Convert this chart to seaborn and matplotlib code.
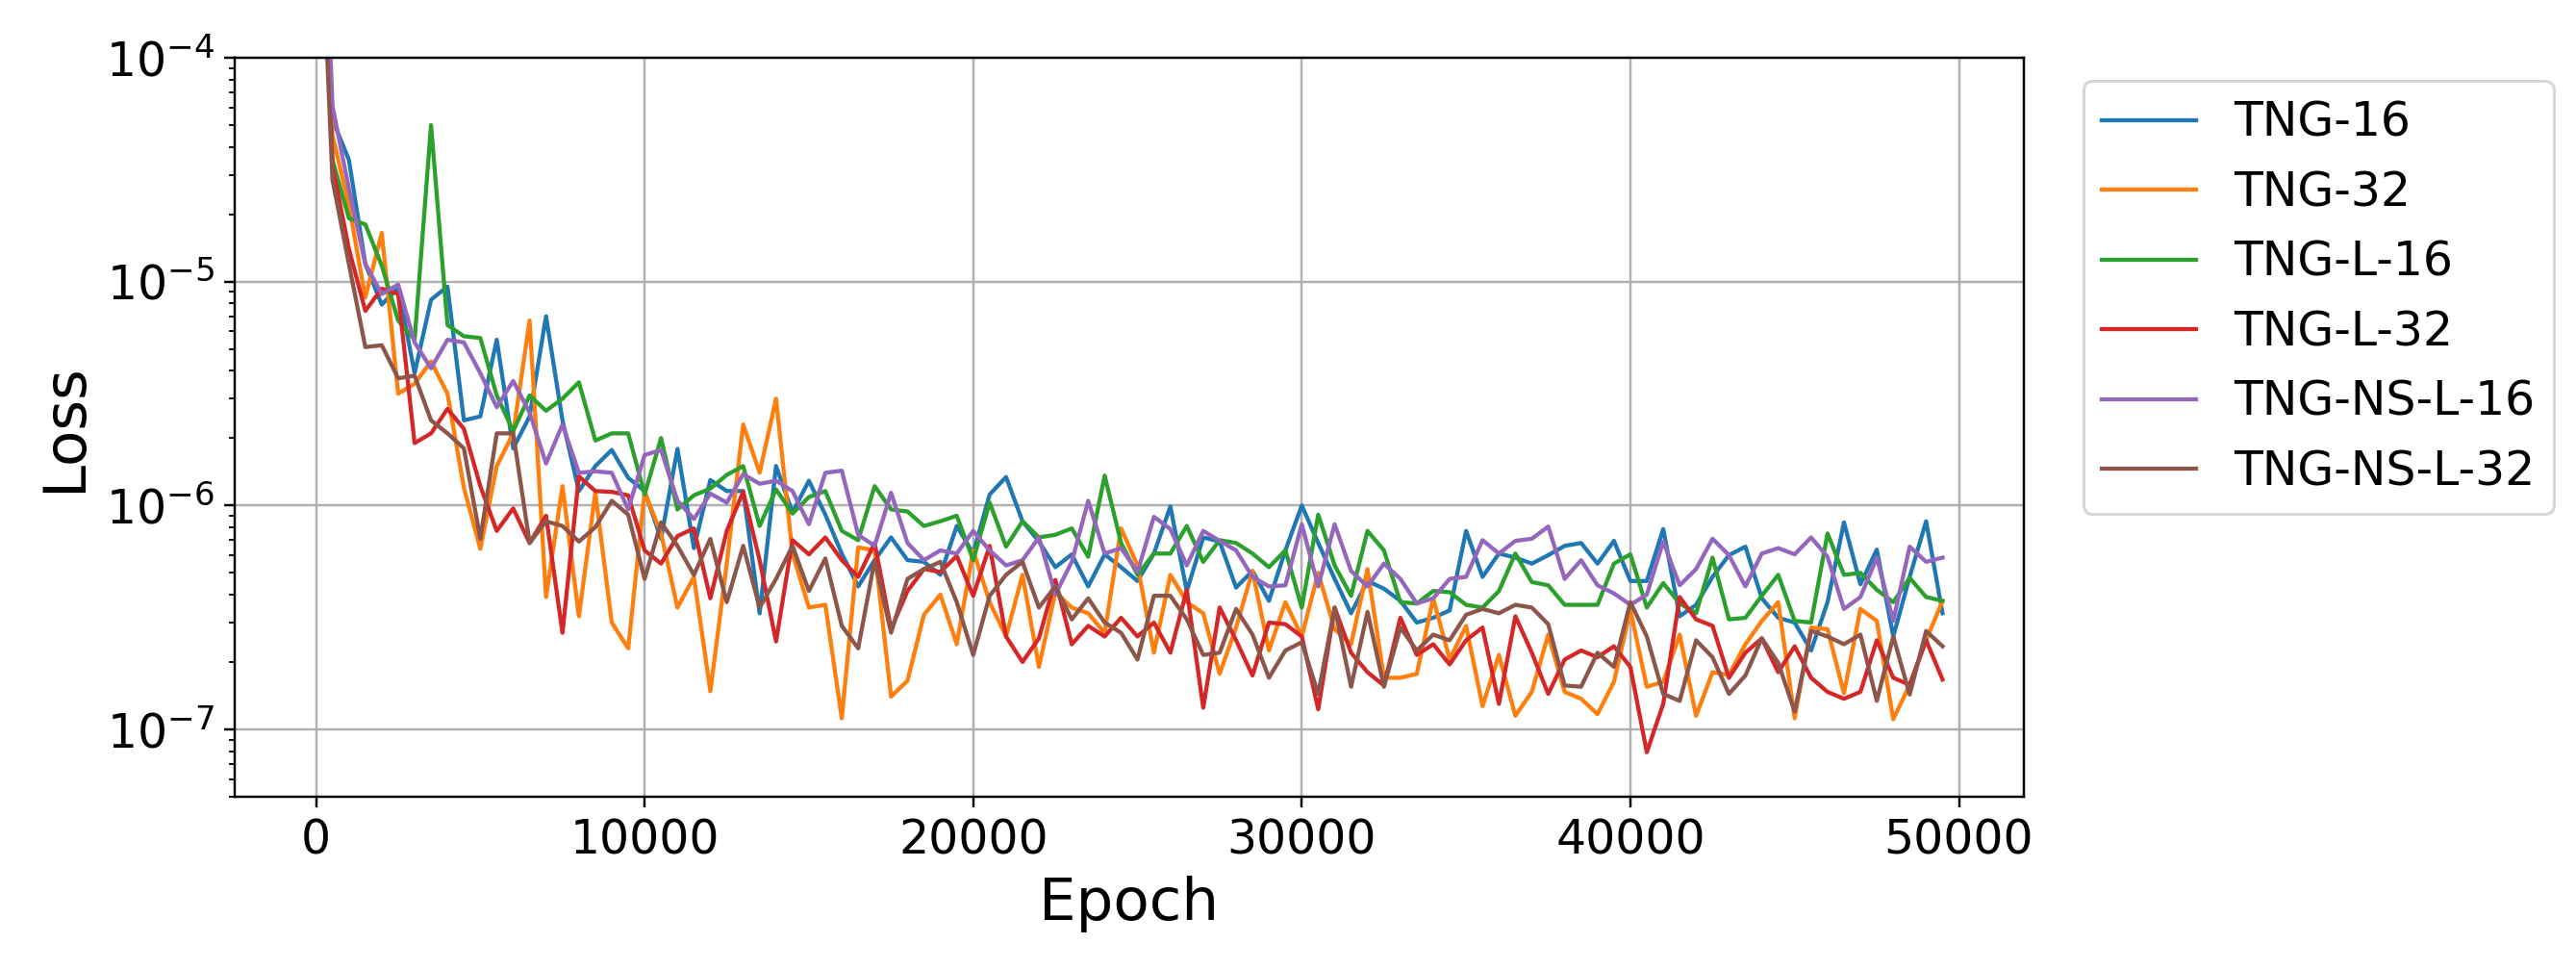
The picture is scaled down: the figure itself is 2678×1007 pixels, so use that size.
import numpy as np
import pandas as pd
import matplotlib
matplotlib.use("Agg")
import matplotlib.pyplot as plt
import seaborn as sns

epochs = list(range(0, 50000, 500))

tng_16 = [3e-3,
    5.3e-5, 3.5e-5, 1.2e-5, 7.9e-6, 9.4e-6, 3.9e-6, 8.3e-6, 9.5e-6, 2.4e-6, 2.5e-6, 5.5e-6, 1.8e-6, 2.5e-6, 7.0e-6, 2.4e-6, 1.16e-6, 1.5e-6,
    1.77e-6, 1.33e-6, 1.16e-6, 7.1e-7, 1.79e-6, 6.45e-7, 1.3e-6, 1.16e-6, 1.16e-6, 3.3e-7, 1.5e-6, 9.3e-7, 1.29e-6, 9.1e-7, 6.1e-7, 4.35e-7, 5.7e-7,
    7.2e-7, 5.7e-7, 5.6e-7, 4.9e-7, 8.1e-7, 6.1e-7, 1.12e-6, 1.34e-6, 8.5e-7, 6.9e-7, 5.3e-7, 6.05e-7, 4.35e-7, 6.05e-7, 5.3e-7, 4.6e-7, 6.1e-7,
    9.9e-7, 4.15e-7, 7.2e-7, 6.9e-7, 4.3e-7, 5.1e-7, 3.75e-7, 6.3e-7, 1.0e-6, 6.8e-7, 4.7e-7, 3.3e-7, 4.6e-7, 4.25e-7, 3.75e-7, 3.0e-7, 3.15e-7,
    3.4e-7, 7.7e-7, 4.8e-7, 6.1e-7, 5.85e-7, 5.5e-7, 6.0e-7, 6.6e-7, 6.8e-7, 5.5e-7, 6.95e-7, 4.6e-7, 4.6e-7, 7.85e-7, 3.2e-7, 3.6e-7, 4.8e-7,
    6.0e-7, 6.55e-7, 3.85e-7, 3.15e-7, 3.0e-7, 2.25e-7, 3.7e-7, 8.4e-7, 4.45e-7, 6.35e-7, 2.6e-7, 4.8e-7, 8.5e-7, 3.3e-7]

tng_32 = [3e-3,
    4.5e-5, 2.2e-5, 8.5e-6, 1.65e-5, 3.16e-6, 3.5e-6, 4.4e-6, 3.16e-6, 1.2e-6, 6.4e-7, 1.5e-6, 2.1e-6, 6.7e-6, 3.9e-7, 1.22e-6, 3.2e-7, 1.14e-6,
    3.0e-7, 2.3e-7, 1.15e-6, 7.5e-7, 3.5e-7, 4.8e-7, 1.48e-7, 5.5e-7, 2.3e-6, 1.4e-6, 3.0e-6, 6.1e-7, 3.5e-7, 3.6e-7, 1.12e-7, 6.5e-7, 6.3e-7,
    1.4e-7, 1.65e-7, 3.25e-7, 4.0e-7, 2.4e-7, 6.3e-7, 3.7e-7, 2.6e-7, 4.9e-7, 1.9e-7, 4.1e-7, 3.5e-7, 3.3e-7, 2.7e-7, 7.9e-7, 5.4e-7, 2.2e-7,
    4.9e-7, 3.7e-7, 3.3e-7, 1.77e-7, 2.85e-7, 5.1e-7, 2.25e-7, 3.7e-7, 2.6e-7, 5.0e-7, 2.8e-7, 2.4e-7, 5.2e-7, 1.7e-7, 1.7e-7, 1.77e-7, 3.85e-7,
    2.05e-7, 2.9e-7, 1.27e-7, 2.15e-7, 1.15e-7, 1.47e-7, 2.65e-7, 1.47e-7, 1.37e-7, 1.17e-7, 1.63e-7, 3.4e-7, 1.55e-7, 1.63e-7, 2.65e-7, 1.15e-7, 1.8e-7,
    1.75e-7, 2.4e-7, 3.05e-7, 3.7e-7, 1.12e-7, 2.85e-7, 2.8e-7, 1.45e-7, 3.45e-7, 3.05e-7, 1.11e-7, 1.58e-7, 2.5e-7, 3.75e-7]

tng_l_16 = [2e-3,
    3.5e-5, 1.92e-5, 1.8e-5, 1.18e-5, 6.7e-6, 5.5e-6, 5.0e-5, 6.4e-6, 5.7e-6, 5.6e-6, 3.1e-6, 2.15e-6, 3.1e-6, 2.65e-6, 3.0e-6, 3.55e-6, 1.95e-6,
    2.1e-6, 2.1e-6, 1.12e-6, 2.0e-6, 9.6e-7, 1.11e-6, 1.19e-6, 1.37e-6, 1.5e-6, 8.1e-7, 1.18e-6, 9.2e-7, 1.09e-6, 1.16e-6, 7.7e-7, 7.0e-7, 1.22e-6,
    9.6e-7, 9.4e-7, 8.1e-7, 8.5e-7, 9.0e-7, 5.7e-7, 1.03e-6, 6.55e-7, 8.5e-7, 7.2e-7, 7.4e-7, 7.9e-7, 5.9e-7, 1.36e-6, 6.8e-7, 4.9e-7, 6.1e-7,
    6.1e-7, 8.1e-7, 5.6e-7, 7.0e-7, 6.8e-7, 6.1e-7, 5.3e-7, 6.3e-7, 3.5e-7, 9.1e-7, 5.4e-7, 3.95e-7, 7.7e-7, 6.3e-7, 3.7e-7, 3.65e-7, 4.15e-7,
    4.1e-7, 3.6e-7, 3.5e-7, 4.15e-7, 6.1e-7, 4.55e-7, 4.4e-7, 3.6e-7, 3.6e-7, 3.6e-7, 5.5e-7, 6.05e-7, 3.5e-7, 4.5e-7, 3.65e-7, 3.3e-7, 5.85e-7,
    3.1e-7, 3.15e-7, 3.95e-7, 4.9e-7, 3.05e-7, 3.0e-7, 7.5e-7, 4.9e-7, 5.0e-7, 4.2e-7, 3.7e-7, 4.75e-7, 3.9e-7, 3.75e-7]

tng_l_32 = [2e-3,
    3.3e-5, 1.4e-5, 7.4e-6, 9.3e-6, 8.8e-6, 1.9e-6, 2.1e-6, 2.7e-6, 2.2e-6, 1.22e-6, 7.7e-7, 9.7e-7, 6.8e-7, 9.0e-7, 2.7e-7, 1.35e-6, 1.16e-6,
    1.15e-6, 1.11e-6, 6.3e-7, 5.5e-7, 7.3e-7, 7.9e-7, 3.85e-7, 7.7e-7, 1.15e-6, 5.7e-7, 2.47e-7, 7.0e-7, 6.05e-7, 7.2e-7, 5.7e-7, 4.8e-7, 6.8e-7,
    2.8e-7, 4.15e-7, 5.2e-7, 5.05e-7, 5.95e-7, 3.95e-7, 6.6e-7, 2.6e-7, 2.0e-7, 2.55e-7, 4.65e-7, 2.4e-7, 2.9e-7, 2.6e-7, 3.15e-7, 2.6e-7, 3.0e-7,
    2.2e-7, 4.2e-7, 1.25e-7, 3.5e-7, 2.5e-7, 1.74e-7, 3.0e-7, 2.95e-7, 2.6e-7, 1.23e-7, 3.5e-7, 2.2e-7, 1.8e-7, 1.57e-7, 3.15e-7, 2.15e-7, 2.4e-7,
    1.95e-7, 2.5e-7, 2.85e-7, 1.3e-7, 3.2e-7, 2.2e-7, 1.44e-7, 2.05e-7, 2.25e-7, 2.1e-7, 2.35e-7, 1.9e-7, 7.9e-8, 1.3e-7, 3.9e-7, 3.1e-7, 2.9e-7,
    1.7e-7, 2.2e-7, 2.55e-7, 1.8e-7, 2.35e-7, 1.7e-7, 1.47e-7, 1.37e-7, 1.47e-7, 2.5e-7, 1.7e-7, 1.58e-7, 2.5e-7, 1.67e-7]

tng_ns_l_16 = [5e-3,
    6.1e-5, 2.6e-5, 1.2e-5, 8.8e-6, 9.7e-6, 5.35e-6, 4.1e-6, 5.5e-6, 5.35e-6, 3.9e-6, 2.75e-6, 3.6e-6, 2.6e-6, 1.54e-6, 2.3e-6, 1.4e-6, 1.42e-6,
    1.4e-6, 9.6e-7, 1.68e-6, 1.77e-6, 1.05e-6, 8.7e-7, 1.13e-6, 1.03e-6, 1.38e-6, 1.25e-6, 1.29e-6, 1.16e-6, 8.25e-7, 1.4e-6, 1.43e-6, 7.4e-7, 6.6e-7,
    1.14e-6, 6.8e-7, 5.7e-7, 6.3e-7, 6.1e-7, 7.7e-7, 6.3e-7, 5.4e-7, 5.7e-7, 7.2e-7, 4.0e-7, 5.6e-7, 1.05e-6, 6.1e-7, 6.45e-7, 5.05e-7, 8.9e-7,
    7.85e-7, 5.4e-7, 7.7e-7, 6.95e-7, 6.3e-7, 4.8e-7, 4.35e-7, 4.4e-7, 8.25e-7, 4.35e-7, 8.25e-7, 5.1e-7, 4.35e-7, 5.5e-7, 4.7e-7, 3.65e-7, 3.85e-7,
    4.7e-7, 4.8e-7, 7.0e-7, 6.1e-7, 6.95e-7, 7.1e-7, 8.05e-7, 4.7e-7, 5.7e-7, 4.4e-7, 4.05e-7, 3.6e-7, 4.0e-7, 6.9e-7, 4.4e-7, 5.2e-7, 7.1e-7,
    6.0e-7, 4.35e-7, 6.1e-7, 6.45e-7, 6.05e-7, 7.2e-7, 5.9e-7, 3.45e-7, 3.9e-7, 5.85e-7, 3.05e-7, 6.55e-7, 5.6e-7, 5.85e-7]

tng_ns_l_32 = [1.5e-3,
    2.85e-5, 1.2e-5, 5.1e-6, 5.2e-6, 3.7e-6, 3.8e-6, 2.4e-6, 2.1e-6, 1.8e-6, 7.1e-7, 2.1e-6, 2.1e-6, 6.8e-7, 8.5e-7, 8.1e-7, 6.9e-7, 8.0e-7,
    1.05e-6, 9.1e-7, 4.7e-7, 8.4e-7, 6.6e-7, 4.9e-7, 7.1e-7, 3.7e-7, 6.6e-7, 3.5e-7, 4.7e-7, 6.6e-7, 4.15e-7, 5.8e-7, 2.9e-7, 2.3e-7, 5.7e-7,
    2.7e-7, 4.7e-7, 5.2e-7, 5.6e-7, 3.7e-7, 2.15e-7, 3.95e-7, 4.9e-7, 5.6e-7, 3.5e-7, 4.35e-7, 3.1e-7, 3.85e-7, 3.0e-7, 2.7e-7, 2.05e-7, 3.95e-7,
    3.95e-7, 3.1e-7, 2.15e-7, 2.2e-7, 3.45e-7, 2.65e-7, 1.7e-7, 2.25e-7, 2.45e-7, 1.44e-7, 3.5e-7, 1.55e-7, 3.35e-7, 1.55e-7, 2.85e-7, 2.25e-7, 2.65e-7,
    2.5e-7, 3.25e-7, 3.45e-7, 3.3e-7, 3.6e-7, 3.5e-7, 2.95e-7, 1.57e-7, 1.55e-7, 2.2e-7, 1.9e-7, 3.7e-7, 2.6e-7, 1.44e-7, 1.34e-7, 2.5e-7, 2.1e-7,
    1.44e-7, 1.74e-7, 2.55e-7, 1.98e-7, 1.2e-7, 2.75e-7, 2.6e-7, 2.4e-7, 2.65e-7, 1.34e-7, 2.6e-7, 1.43e-7, 2.75e-7, 2.35e-7]

labels = ["TNG-16", "TNG-32", "TNG-L-16", "TNG-L-32", "TNG-NS-L-16", "TNG-NS-L-32"]
series = [tng_16, tng_32, tng_l_16, tng_l_32, tng_ns_l_16, tng_ns_l_32]

frames = []
for lab, vals in zip(labels, series):
    frames.append(pd.DataFrame({"Epoch": epochs, "Loss": vals, "Model": lab}))
df = pd.concat(frames, ignore_index=True)

DPI = 220
fig = plt.figure(figsize=(2678 / DPI, 1007 / DPI), dpi=DPI)
ax = fig.add_axes([244 / 2678, 1 - 828 / 1007, (2104 - 244) / 2678, (828 - 60) / 1007])

palette = sns.color_palette("tab10", 6)
sns.lineplot(data=df, x="Epoch", y="Loss", hue="Model", hue_order=labels,
             palette=palette, linewidth=1.4, estimator=None, ax=ax)

ax.set_yscale("log")
ax.set_ylim(5e-8, 1e-4)
ax.set_xticks([0, 10000, 20000, 30000, 40000, 50000])
ax.grid(True, which="major", color="#b0b0b0", linewidth=0.8)
ax.tick_params(axis="both", which="major", labelsize=16)
ax.set_xlabel("Epoch", fontsize=20)
ax.set_ylabel("Loss", fontsize=20)

handles, labs = ax.get_legend_handles_labels()
ax.legend(handles, labs, bbox_to_anchor=(1.02, 1), loc="upper left", fontsize=16)

fig.savefig("out.png", dpi=DPI)
